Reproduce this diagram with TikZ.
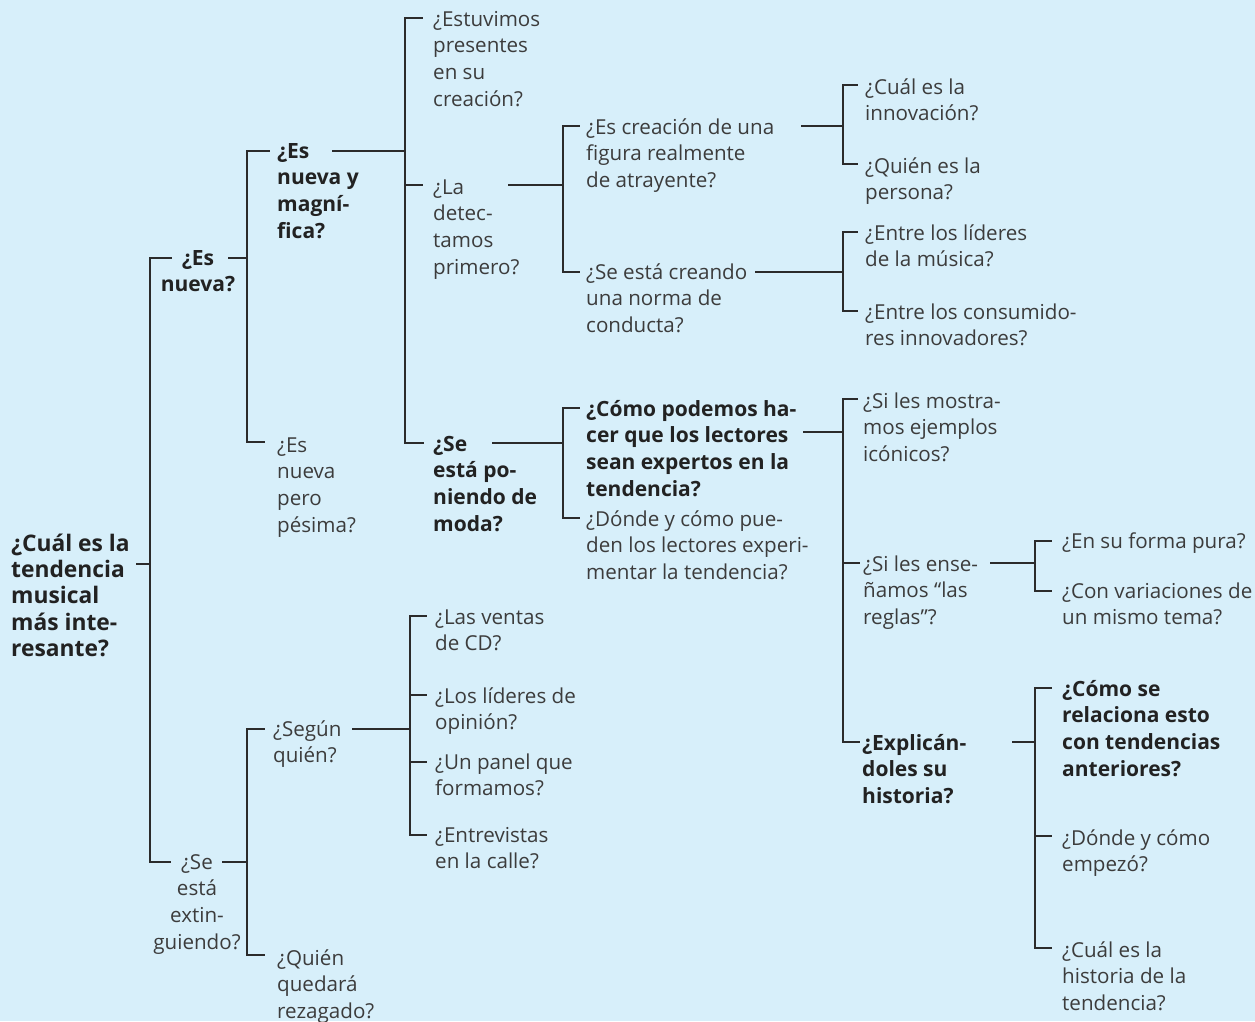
\documentclass[tikz,border=0pt]{standalone}
\usepackage{fontspec}
\setmainfont{Open Sans}
\usetikzlibrary{calc}
\definecolor{bg}{HTML}{D7EFFA}
\definecolor{ink}{HTML}{2B2B2B}
\definecolor{txt}{HTML}{3C3C3C}
\definecolor{btxt}{HTML}{222222}
\tikzset{
  q/.style={anchor=north west, align=left, inner sep=0pt, yshift=13pt,
    font=\fontsize{20.6}{26.6}\selectfont, text=txt},
  qb/.style={q, font=\fontsize{21}{26.6}\selectfont\bfseries, text=btxt},
  qroot/.style={q, font=\fontsize{22.8}{26.3}\selectfont\bfseries, text=btxt},
  thinln/.style={draw=ink, line width=1.4pt},
  thickln/.style={draw=ink, line width=2.9pt, line join=miter},
}
\newcommand\fl{\rule{0pt}{20pt}}
\begin{document}
\begin{tikzpicture}[x=1pt,y=-1pt]
\fill[bg] (0,0) rectangle (1255,1021);
\useasboundingbox (0,0) rectangle (1255,1021);

% ---------- nodes ----------
\node[qroot] (R) at (11,544) {\fl¿Cuál es la\\tendencia\\musical\\más inte-\\resante?};
\node[qb,anchor=north,align=center] (A) at (198,258) {\fl¿Es\\nueva?};
\node[q,anchor=north,align=center] (B) at (197,862) {\fl¿Se\\está\\extin-\\guiendo?};
\node[qb] (C) at (277,151) {\fl¿Es\\nueva y\\magní-\\fica?};
\node[q] (D) at (277,445) {\fl¿Es\\nueva\\pero\\pésima?};
\node[q] (E) at (433,19) {\fl¿Estuvimos\\presentes\\en su\\creación?};
\node[q] (F) at (433,187) {\fl¿La\\detec-\\tamos\\primero?};
\node[qb] (G) at (433,444) {\fl¿Se\\está po-\\niendo de\\moda?};
\node[q] (H) at (586,127) {\fl¿Es creación de una\\figura realmente\\de atrayente?};
\node[q] (I) at (586,272) {\fl¿Se está creando\\una norma de\\conducta?};
\node[q] (H1) at (865,87) {\fl¿Cuál es la\\innovación?};
\node[q] (H2) at (865,166) {\fl¿Quién es la\\persona?};
\node[q] (I1) at (865,233) {\fl¿Entre los líderes\\de la música?};
\node[q] (I2) at (865,312) {\fl¿Entre los consumido-\\res innovadores?};
\node[qb] (K) at (586,409) {\fl¿Cómo podemos ha-\\cer que los lectores\\sean expertos en la\\tendencia?};
\node[q] (L) at (586,519) {\fl¿Dónde y cómo pue-\\den los lectores experi-\\mentar la tendencia?};
\node[q] (M) at (863,401) {\fl¿Si les mostra-\\mos ejemplos\\icónicos?};
\node[q] (N) at (863,564) {\fl¿Si les ense-\\ñamos “las\\reglas”?};
\node[qb] (O) at (862,743) {\fl¿Explicán-\\doles su\\historia?};
\node[q] (N1) at (1062,541) {\fl¿En su forma pura?};
\node[q] (N2) at (1062,591) {\fl¿Con variaciones de\\un mismo tema?};
\node[qb] (O1) at (1062,689) {\fl¿Cómo se\\relaciona esto\\con tendencias\\anteriores?};
\node[q] (O2) at (1062,838) {\fl¿Dónde y cómo\\empezó?};
\node[q] (O3) at (1062,950) {\fl¿Cuál es la\\historia de la\\tendencia?};
\node[q] (P) at (273,729) {\fl¿Según\\quién?};
\node[q] (Q) at (277,958) {\fl¿Quién\\quedará\\rezagado?};
\node[q] (P1) at (435,617) {\fl¿Las ventas\\de CD?};
\node[q] (P2) at (435,696) {\fl¿Los líderes de\\opinión?};
\node[q] (P3) at (435,762) {\fl¿Un panel que\\formamos?};
\node[q] (P4) at (435,835) {\fl¿Entrevistas\\en la calle?};

% ---------- connector points ----------
\coordinate (Rout) at (136,564);   \coordinate (J0) at (150,564);
\coordinate (Ain) at (172,258);    \coordinate (Bin) at (171,862);
\coordinate (Aout) at (228,258);   \coordinate (J1) at (247,258);
\coordinate (Bout) at (222,862);   \coordinate (J2) at (247,862);
\coordinate (Cin) at (270,151);    \coordinate (Din) at (265,442);
\coordinate (Cout) at (332,151);   \coordinate (J3) at (405,151);
\coordinate (Ein) at (423,18);     \coordinate (Fin) at (423,185);
\coordinate (Gin) at (424,443);
\coordinate (Fout) at (508,185);   \coordinate (J4) at (563,185);
\coordinate (Gout) at (492,443);   \coordinate (J5) at (563,443);
\coordinate (Hin) at (580,126);    \coordinate (Iin) at (580,272);
\coordinate (Hout) at (801,126);   \coordinate (J6) at (843,126);
\coordinate (Iout) at (755,272);   \coordinate (J7) at (843,272);
\coordinate (H1in) at (858,85);    \coordinate (H2in) at (858,164);
\coordinate (I1in) at (858,232);   \coordinate (I2in) at (858,311);
\coordinate (Kin) at (580,408);    \coordinate (Lin) at (580,518);
\coordinate (Kout) at (803,432);   \coordinate (J8) at (843,432);
\coordinate (Min) at (858,399);    \coordinate (Nin) at (860,563);
\coordinate (Oin) at (860,742);
\coordinate (Nout) at (990,563);   \coordinate (J9) at (1035,563);
\coordinate (Oout) at (1012,742);  \coordinate (J10) at (1035,742);
\coordinate (N1in) at (1052,541);  \coordinate (N2in) at (1052,591);
\coordinate (O1in) at (1052,688);  \coordinate (O2in) at (1052,836);
\coordinate (O3in) at (1052,948);
\coordinate (Pin) at (265,729);    \coordinate (Qin) at (265,955);
\coordinate (Pout) at (352,729);   \coordinate (J11) at (410,729);
\coordinate (P1in) at (427,616);   \coordinate (P2in) at (427,695);
\coordinate (P3in) at (427,762);   \coordinate (P4in) at (427,835);

% ---------- thin connectors ----------
\draw[thinln] (J0) |- (Bin);
\draw[thinln] (Bout) -- (J2);
\draw[thinln] (J1) |- (Din);
\draw[thinln] (J3) |- (Ein);
\draw[thinln] (J3) |- (Fin);
\draw[thinln] (Fout) -- (J4);
\draw[thinln] (J4) |- (Hin);
\draw[thinln] (J4) |- (Iin);
\draw[thinln] (Hout) -- (J6);
\draw[thinln] (J6) |- (H1in);
\draw[thinln] (J6) |- (H2in);
\draw[thinln] (Iout) -- (J7);
\draw[thinln] (J7) |- (I1in);
\draw[thinln] (J7) |- (I2in);
\draw[thinln] (J5) |- (Lin);
\draw[thinln] (J8) |- (Min);
\draw[thinln] (J8) |- (Nin);
\draw[thinln] (Nout) -- (J9);
\draw[thinln] (J9) |- (N1in);
\draw[thinln] (J9) |- (N2in);
\draw[thinln] (J10) |- (O2in);
\draw[thinln] (J10) |- (O3in);
\draw[thinln] (J2) |- (Pin);
\draw[thinln] (J2) |- (Qin);
\draw[thinln] (Pout) -- (J11);
\draw[thinln] (J11) |- (P1in);
\draw[thinln] (J11) |- (P2in);
\draw[thinln] (J11) |- (P3in);
\draw[thinln] (J11) |- (P4in);

% ---------- thick connectors (main path) ----------
\draw[thickln] (Rout) -- (J0);
\draw[thickln] (J0) |- (Ain);
\draw[thickln] (Aout) -- (J1);
\draw[thickln] (J1) |- (Cin);
\draw[thickln] (Cout) -- (J3);
\draw[thickln] (J3) |- (Gin);
\draw[thickln] (Gout) -- (J5);
\draw[thickln] (J5) |- (Kin);
\draw[thickln] (Kout) -- (J8);
\draw[thickln] (J8) |- (Oin);
\draw[thickln] (Oout) -- (J10);
\draw[thickln] (J10) |- (O1in);
\end{tikzpicture}
\end{document}
